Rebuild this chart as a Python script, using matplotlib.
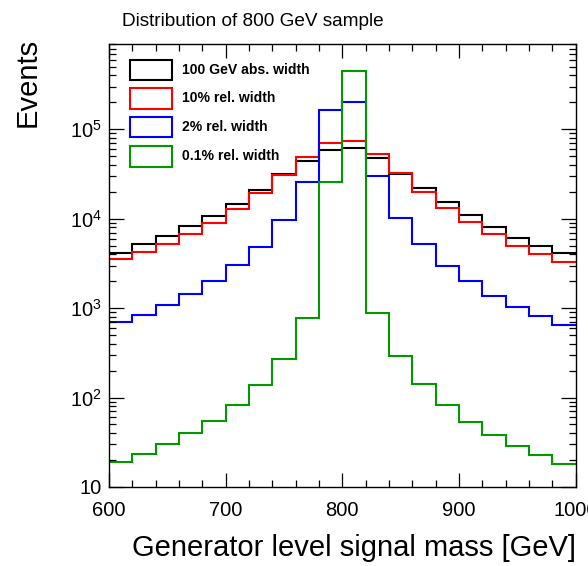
import matplotlib
matplotlib.use("Agg")
import matplotlib.pyplot as plt
from matplotlib.patches import Rectangle
from matplotlib.ticker import FixedLocator, FixedFormatter, MultipleLocator

plt.rcParams['font.family'] = ['Liberation Sans', 'DejaVu Sans']
plt.rcParams['mathtext.fontset'] = 'custom'
plt.rcParams['mathtext.rm'] = 'Liberation Sans'
plt.rcParams['mathtext.it'] = 'Liberation Sans:italic'

# bin edges of the generator-level mass histogram [GeV]
bin_edges = [600, 620, 640, 660, 680, 700, 720, 740, 760, 780, 800,
             820, 840, 860, 880, 900, 920, 940, 960, 980, 1000]

# events per bin
abs_100gev = [4170, 5170, 6400, 8280, 10800, 14600, 20900, 31500, 44700, 58800,
              62400, 48200, 32000, 22300, 15300, 11000, 8130, 6120, 4990, 4100]
rel_10pct = [3510, 4200, 5250, 6790, 9020, 12850, 19200, 30600, 48700, 69900,
             74100, 52600, 32700, 19800, 13300, 9120, 6700, 4990, 4030, 3300]
rel_2pct = [697, 835, 1080, 1435, 2005, 3030, 4820, 9670, 25900, 163700,
            203000, 30100, 10100, 5210, 2980, 1990, 1375, 1035, 820, 650]
rel_01pct = [18.9, 23.2, 30, 40, 55, 82, 138, 273, 778, 25900,
             454000, 885, 290, 143, 83, 54, 38, 28.5, 22.6, 17.9]

labels = ["100 GeV abs. width", "10% rel. width", "2% rel. width", "0.1% rel. width"]
colors = ["black", "#ff0000", "#0000ff", "#009a00"]
series = [abs_100gev, rel_10pct, rel_2pct, rel_01pct]

fig = plt.figure(figsize=(5.88, 5.66), dpi=100)
ax = fig.add_axes([109 / 588, 1 - 487 / 566, (575.7 - 109) / 588, (487 - 44) / 566])

for vals, col in zip(series, colors):
    ax.stairs(vals, bin_edges, baseline=None, color=col, linewidth=1.5)

ax.set_xlim(600, 1000)
ax.set_yscale('log')
ax.set_ylim(10, 9.0e5)

# ROOT-like ticks: inside, on all four sides
ax.xaxis.set_major_locator(MultipleLocator(100))
ax.xaxis.set_minor_locator(MultipleLocator(20))
ax.yaxis.set_major_locator(FixedLocator([10, 1e2, 1e3, 1e4, 1e5]))
ax.yaxis.set_major_formatter(FixedFormatter(['10', r'$\mathregular{10^2}$', r'$\mathregular{10^3}$',
                                             r'$\mathregular{10^4}$', r'$\mathregular{10^5}$']))
ax.tick_params(which='both', direction='in', top=True, right=True, labelsize=14.5)
ax.tick_params(axis='x', which='major', length=10, width=0.9, pad=10)
ax.tick_params(axis='x', which='minor', length=5, width=0.9)
ax.tick_params(axis='y', which='major', length=11, width=0.9, pad=5)
ax.tick_params(axis='y', which='minor', length=5, width=0.9)
for sp in ax.spines.values():
    sp.set_linewidth(1.0)

# legend drawn by hand as open boxes
box_y = [70, 98.5, 127, 156.5]
for yc, lab, col in zip(box_y, labels, colors):
    fy = 1 - yc / 566
    fig.patches.append(Rectangle((130 / 588, fy - 10 / 566), 42 / 588, 20 / 566,
                                 transform=fig.transFigure, fill=False,
                                 edgecolor=col, linewidth=1.5))
    fig.text(182 / 588, fy, lab, fontsize=10.1, fontweight='bold', va='center', ha='left')

fig.text(122 / 588, 1 - 21 / 566, "Distribution of 800 GeV sample", fontsize=13.7,
         va='center', ha='left')
fig.text(575.7 / 588, 1 - 548 / 566, "Generator level signal mass [GeV]", fontsize=21,
         va='center', ha='right')
fig.text(28 / 588, 1 - 38 / 566, "Events", fontsize=21, rotation=90, va='top', ha='center')

fig.savefig("out.png", dpi=100)
